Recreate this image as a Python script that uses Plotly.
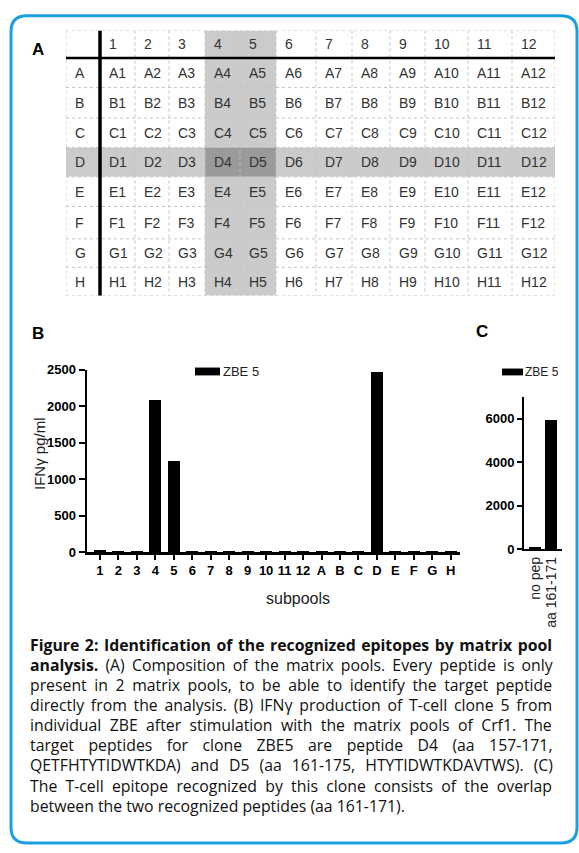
import plotly.graph_objects as go
import numpy as np

W, H = 579, 853


def px(x):
    return x / W


def py(y):
    return 1 - y / H


# ---------------- data ----------------
plate_cols = ["1", "2", "3", "4", "5", "6", "7", "8", "9", "10", "11", "12"]
plate_rows = ["A", "B", "C", "D", "E", "F", "G", "H"]
hit_cols = ["4", "5"]
hit_rows = ["D"]

subpools = ["1", "2", "3", "4", "5", "6", "7", "8", "9", "10", "11", "12",
            "A", "B", "C", "D", "E", "F", "G", "H"]
ifng_subpools = [35, 20, 20, 2085, 1250, 20, 20, 20, 20, 20, 20, 20,
                 20, 20, 20, 2470, 20, 20, 20, 20]

peptides = ["no pep", "aa 161-171"]
ifng_peptides = [120, 5950]

series_name = "ZBE 5"

caption_lines = [
    "Figure 2: Identification of the recognized epitopes by matrix pool",
    "analysis. (A) Composition of the matrix pools. Every peptide is only",
    "present in 2 matrix pools, to be able to identify the target peptide",
    "directly from the analysis. (B) IFNγ production of T-cell clone 5 from",
    "individual ZBE after stimulation with the matrix pools of Crf1. The",
    "target peptides for clone ZBE5 are peptide D4 (aa 157-171,",
    "QETFHTYTIDWTKDA) and D5 (aa 161-175, HTYTIDWTKDAVTWS). (C)",
    "The T-cell epitope recognized by this clone consists of the overlap",
    "between the two recognized peptides (aa 161-171).",
]
caption_bold_words = [99, 1, 0, 0, 0, 0, 0, 0, 0]
caption_justify = [True, True, True, True, True, True, True, True, False]

# ---------------- styles ----------------
ARIAL = "Liberation Sans, Arial, sans-serif"
CAPF = "Open Sans, sans-serif"
BLUE = "#1a9fe0"

fig = go.Figure()

# ---------------- panel A: table ----------------
col_w = [34, 35, 34, 36, 35, 36, 40, 36, 38, 35, 43, 44, 43]
row_h = [28, 30, 31, 30, 30, 30, 33, 29, 29]
xe = np.concatenate([[0], np.cumsum(col_w)]).astype(float)
ye = np.concatenate([[0], np.cumsum(row_h)]).astype(float)
hdr_cols = [""] + plate_cols
hdr_rows = [""] + plate_rows

z = [[(cl in hit_cols) + (rl in hit_rows) for cl in hdr_cols] for rl in hdr_rows]
fig.add_trace(go.Heatmap(
    z=z, x=xe, y=ye, xaxis="x3", yaxis="y3", zmin=0, zmax=2,
    colorscale=[[0, "#ffffff"], [0.25, "#ffffff"], [0.25, "#cbcbcb"],
                [0.75, "#cbcbcb"], [0.75, "#9a9a9a"], [1, "#9a9a9a"]],
    showscale=False, hoverinfo="skip"))

annotations = []
for r, rl in enumerate(hdr_rows):
    for c, cl in enumerate(hdr_cols):
        if r == 0:
            t = cl
        elif c == 0:
            t = rl
        else:
            t = rl + cl
        if not t:
            continue
        annotations.append(dict(
            x=xe[c] + 7, y=(ye[r] + ye[r + 1]) / 2, xref="x3", yref="y3",
            text=t, showarrow=False, xanchor="left", yanchor="middle",
            font=dict(family=ARIAL, size=14, color="#333333")))

shapes = []
for xv in xe:
    shapes.append(dict(type="line", xref="x3", yref="y3", x0=xv, x1=xv,
                       y0=ye[0], y1=ye[-1], layer="above",
                       line=dict(color="#c4c4c4", width=1, dash="dot")))
for yv in ye:
    shapes.append(dict(type="line", xref="x3", yref="y3", x0=xe[0], x1=xe[-1],
                       y0=yv, y1=yv, layer="above",
                       line=dict(color="#c4c4c4", width=1, dash="dot")))
# thick header separators
shapes.append(dict(type="line", xref="x3", yref="y3", x0=xe[0], x1=xe[-1],
                   y0=ye[1], y1=ye[1], layer="above",
                   line=dict(color="black", width=2.5)))
shapes.append(dict(type="line", xref="x3", yref="y3", x0=xe[1], x1=xe[1],
                   y0=ye[0], y1=ye[-1], layer="above",
                   line=dict(color="black", width=3.5)))

# ---------------- panel B ----------------
fig.add_trace(go.Bar(x=subpools, y=ifng_subpools, name=series_name,
                     marker=dict(color="black", line=dict(width=0)),
                     width=0.65, xaxis="x", yaxis="y", showlegend=False,
                     hoverinfo="skip"))

# ---------------- panel C ----------------
fig.add_trace(go.Bar(x=peptides, y=ifng_peptides, name=series_name,
                     marker=dict(color="black", line=dict(width=0)),
                     width=0.75, xaxis="x2", yaxis="y2", showlegend=False,
                     hoverinfo="skip"))

# legends (drawn)
shapes.append(dict(type="rect", xref="paper", yref="paper",
                   x0=px(195), x1=px(220), y0=py(375), y1=py(367),
                   fillcolor="black", line=dict(width=0)))
annotations.append(dict(x=px(221), y=py(371), xref="paper", yref="paper",
                        text=series_name, showarrow=False, xanchor="left",
                        yanchor="middle",
                        font=dict(family=ARIAL, size=13, color="#222")))
shapes.append(dict(type="rect", xref="paper", yref="paper",
                   x0=px(502), x1=px(523), y0=py(375), y1=py(368),
                   fillcolor="black", line=dict(width=0)))
annotations.append(dict(x=px(523), y=py(371.5), xref="paper", yref="paper",
                        text=series_name, showarrow=False, xanchor="left",
                        yanchor="middle",
                        font=dict(family=ARIAL, size=12, color="#222")))

# axis titles
annotations.append(dict(x=px(40), y=py(455), xref="paper", yref="paper",
                        text="IFNγ pg/ml", textangle=-90, showarrow=False,
                        xanchor="center", yanchor="middle",
                        font=dict(family=ARIAL, size=15, color="#222")))
annotations.append(dict(x=px(298), y=py(602), xref="paper", yref="paper",
                        text="subpools", showarrow=False,
                        xanchor="center", yanchor="middle",
                        font=dict(family=ARIAL, size=16, color="#222")))

# panel letters
for letter, lx, ly in [("A", 38, 43), ("B", 38, 332), ("C", 482, 330)]:
    annotations.append(dict(x=px(lx), y=py(ly), xref="paper", yref="paper",
                            text="<b>%s</b>" % letter, showarrow=False,
                            xanchor="center", yanchor="middle",
                            font=dict(family=ARIAL, size=17, color="black")))

# ---------------- caption (justified via word-spacing) ----------------
OS_W = {" ": 532, "a": 1139, "b": 1255, "c": 975, "d": 1255, "e": 1149,
        "f": 694, "g": 1122, "h": 1257, "i": 518, "j": 518, "k": 1075,
        "l": 518, "m": 1905, "n": 1257, "o": 1237, "p": 1255, "q": 1255,
        "r": 836, "s": 977, "t": 723, "u": 1257, "v": 1026, "w": 1593,
        "x": 1073, "y": 1028, "z": 954, "A": 1296, "B": 1327, "C": 1292,
        "D": 1493, "E": 1139, "F": 1057, "G": 1491, "H": 1511, "I": 571,
        "J": 547, "K": 1247, "L": 1068, "M": 1849, "N": 1544, "O": 1595,
        "P": 1233, "Q": 1595, "R": 1266, "S": 1098, "T": 1124, "U": 1511,
        "V": 1223, "W": 1895, "X": 1208, "Y": 1159, "Z": 1140, ".": 545,
        ",": 497, ":": 545, "-": 659, "(": 578, ")": 578, "γ": 1030}
for d in "0123456789":
    OS_W[d] = 1171

CAP_SIZE = 15.8
SPACE_W = OS_W[" "] / 2048 * CAP_SIZE


def text_w(s, bold):
    u = sum(OS_W.get(ch, 1100) for ch in s)
    return u / 2048 * CAP_SIZE * (1.08 if bold else 1.0)


cap_left, cap_right = 29, 551
cap_y0, cap_dy = 649, 20.5
for i, line in enumerate(caption_lines):
    yc = py(cap_y0 + i * cap_dy)
    words = line.split(" ")
    nb = caption_bold_words[i]
    parts = ["<b>%s</b>" % w if k < nb else w for k, w in enumerate(words)]
    body = " ".join(parts)
    if caption_justify[i]:
        natural = sum(text_w(w, k < nb) for k, w in enumerate(words)) \
            + SPACE_W * (len(words) - 1)
        extra = (cap_right - cap_left - natural) / (len(words) - 1)
        body = '<span style="word-spacing:%.2fpx">%s</span>' % (extra, body)
    annotations.append(dict(x=px(cap_left), y=yc, xref="paper", yref="paper",
                            text=body, showarrow=False, xanchor="left",
                            yanchor="middle", borderpad=0,
                            font=dict(family=CAPF, size=CAP_SIZE, color="#111")))

# ---------------- border ----------------
bl, bt, br, bb, rr = 11, 9, 577, 851, 16


def P(x, y):
    return "%.5f,%.5f" % (px(x), py(y))


path = ("M " + P(bl + rr, bt) + " L " + P(br - rr, bt) + " Q " + P(br, bt) + " " + P(br, bt + rr)
        + " L " + P(br, bb - rr) + " Q " + P(br, bb) + " " + P(br - rr, bb)
        + " L " + P(bl + rr, bb) + " Q " + P(bl, bb) + " " + P(bl, bb - rr)
        + " L " + P(bl, bt + rr) + " Q " + P(bl, bt) + " " + P(bl + rr, bt) + " Z")
shapes.append(dict(type="path", xref="paper", yref="paper", path=path,
                   line=dict(color=BLUE, width=3)))

tick_bold = dict(family=ARIAL, size=13, color="black", weight="bold")

fig.update_layout(
    width=W, height=H, margin=dict(l=0, r=0, t=0, b=0),
    paper_bgcolor="white", plot_bgcolor="rgba(0,0,0,0)",
    showlegend=False, bargap=0,
    xaxis=dict(domain=[px(87), px(460)], range=[-0.7, 19.5], type="category",
               anchor="y", showline=True, linecolor="black", linewidth=2.5,
               tickmode="array", tickvals=subpools,
               ticks="outside", ticklen=5, tickwidth=2, tickcolor="black",
               tickfont=tick_bold, showgrid=False, zeroline=False),
    yaxis=dict(domain=[py(555), py(369)], range=[0, 2500], anchor="x",
               tickvals=[0, 500, 1000, 1500, 2000, 2500], showline=True,
               linecolor="black", linewidth=2.5, ticks="outside", ticklen=6,
               tickwidth=2, tickcolor="black", tickfont=tick_bold,
               showgrid=False, zeroline=False),
    xaxis2=dict(domain=[px(524), px(562)], range=[-0.69, 1.69], type="category",
                anchor="y2", showline=True, linecolor="black", linewidth=2,
                tickmode="array", tickvals=peptides,
                ticks="", tickangle=-90,
                tickfont=dict(family=ARIAL, size=14, color="#222"),
                showgrid=False, zeroline=False),
    yaxis2=dict(domain=[py(552), py(397)], range=[0, 7000], anchor="x2",
                tickvals=[0, 2000, 4000, 6000], showline=True, linecolor="black",
                linewidth=2, ticks="outside", ticklen=5, tickwidth=2,
                tickcolor="black", tickfont=tick_bold, showgrid=False,
                zeroline=False),
    xaxis3=dict(domain=[px(66), px(555)], range=[xe[0], xe[-1]], anchor="y3",
                visible=False, fixedrange=True),
    yaxis3=dict(domain=[py(294), py(24)], range=[ye[-1], ye[0]], anchor="x3",
                visible=False, fixedrange=True),
    shapes=shapes,
    annotations=annotations,
)

fig.write_html(
    "out.html",
    config={"displayModeBar": False, "staticPlot": True},
    post_script="document.body.style.margin='0px';document.body.style.padding='0px';"
                "document.documentElement.style.overflow='hidden';",
)
